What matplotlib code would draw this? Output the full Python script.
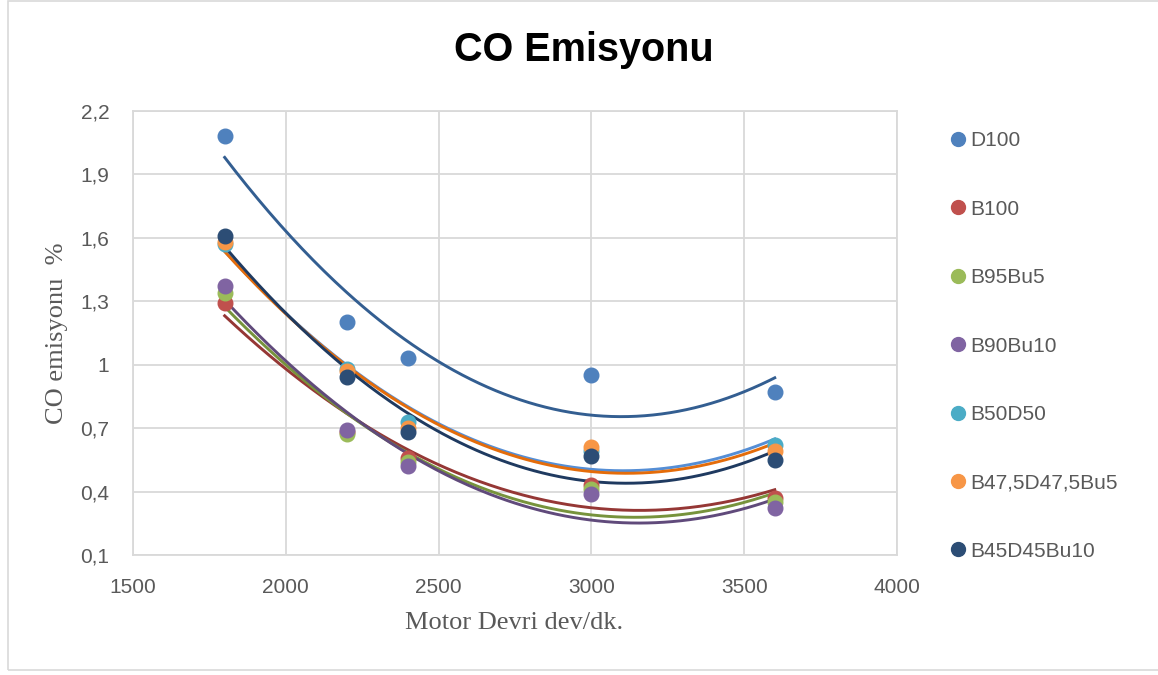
import matplotlib
matplotlib.use('Agg')
import matplotlib.pyplot as plt
from matplotlib.lines import Line2D
from matplotlib.patches import Rectangle
import numpy as np

# Motor devri (dev/dk.)
rpm = [1800, 2200, 2400, 3000, 3600]

# CO emisyonu (%) - okunan degerler
d100 = [2.08, 1.20, 1.03, 0.95, 0.87]
b100 = [1.29, 0.68, 0.56, 0.43, 0.37]
b95bu5 = [1.34, 0.67, 0.54, 0.41, 0.35]
b90bu10 = [1.37, 0.69, 0.52, 0.39, 0.32]
b50d50 = [1.57, 0.98, 0.73, 0.59, 0.62]
b475d475bu5 = [1.58, 0.97, 0.70, 0.61, 0.59]
b45d45bu10 = [1.61, 0.94, 0.68, 0.57, 0.55]

labels = ['D100', 'B100', 'B95Bu5', 'B90Bu10', 'B50D50', 'B47,5D47,5Bu5', 'B45D45Bu10']
series = [d100, b100, b95bu5, b90bu10, b50d50, b475d475bu5, b45d45bu10]
marker_colors = ['#4F81BD', '#C0504D', '#9BBB59', '#8064A2', '#4BACC6', '#F79646', '#2C4D75']
trend_colors = ['#335E91', '#953735', '#77933C', '#604A7B', '#558ED5', '#E46C0A', '#1F3A60']

y_ticks = [0.1, 0.4, 0.7, 1.0, 1.3, 1.6, 1.9, 2.2]
y_labels = ['0,1', '0,4', '0,7', '1', '1,3', '1,6', '1,9', '2,2']
x_ticks = [1500, 2000, 2500, 3000, 3500, 4000]

W, H = 1158, 675
fig = plt.figure(figsize=(W / 100, H / 100), dpi=100)

# dis cerceve
fig.patches.append(Rectangle((8 / W, 1 - 670 / H), 1.2, 670 / H - 0.002,
                             transform=fig.transFigure, fill=False,
                             edgecolor='#D9D9D9', linewidth=1.2))

ax = fig.add_axes([133 / W, 1 - 555 / H, (897 - 133) / W, (555 - 111) / H])

# 2. derece polinom egilim cizgileri
x_fit = np.linspace(min(rpm), max(rpm), 200)
for vals, tc in zip(series, trend_colors):
    coef = np.polyfit(rpm, vals, 2)
    ax.plot(x_fit, np.polyval(coef, x_fit), color=tc, linewidth=2.1, zorder=2)

for vals, mc, lab in zip(series, marker_colors, labels):
    ax.plot(rpm, vals, 'o', color=mc, markersize=10.5, label=lab, zorder=3)

ax.set_xlim(1500, 4000)
ax.set_ylim(0.1, 2.2)
ax.set_xticks(x_ticks)
ax.set_yticks(y_ticks)
ax.set_yticklabels(y_labels)
ax.tick_params(axis='y', length=0, labelsize=15, labelcolor='#595959', pad=17)
ax.tick_params(axis='x', length=0, labelsize=15, labelcolor='#595959', pad=16.5)
for lab in ax.get_xticklabels() + ax.get_yticklabels():
    lab.set_family('Liberation Sans')

ax.grid(True, color='#D9D9D9', linewidth=1.3)
ax.set_axisbelow(True)
for s in ax.spines.values():
    s.set_color('#D9D9D9')
    s.set_linewidth(1.3)

fig.text(514 / W, 1 - 623 / H, 'Motor Devri dev/dk.', ha='center', va='center',
         family='Liberation Serif', fontsize=19, color='#595959')
fig.text(57 / W, 1 - 333 / H, 'CO emisyonu  %', ha='center', va='center',
         rotation=90, family='Liberation Serif', fontsize=19, color='#595959')

fig.text(584 / W, 1 - 50 / H, 'CO Emisyonu', ha='center', va='center',
         family='Liberation Sans', fontweight='bold', fontsize=28.5, color='black')

handles = [Line2D([], [], linestyle='none', marker='o', color=c, markersize=10)
           for c in marker_colors]
leg = fig.legend(handles, labels, loc='upper left',
                 bbox_to_anchor=(941 / W, 1 - 121 / H), frameon=False,
                 prop={'family': 'Liberation Sans', 'size': 15},
                 labelcolor='#595959', handlelength=0.6, handletextpad=0.3,
                 labelspacing=2.37, borderpad=0)

fig.savefig('out.png', dpi=100)
